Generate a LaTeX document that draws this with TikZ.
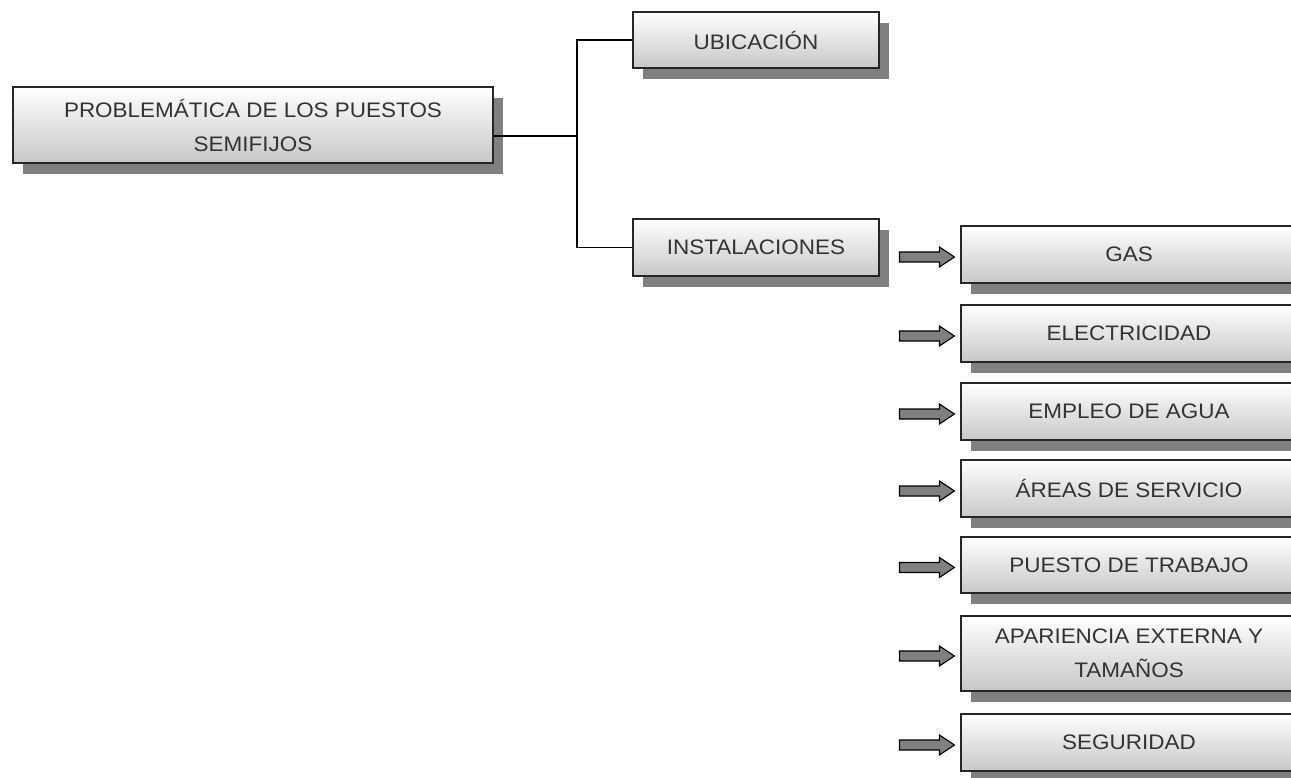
\documentclass[tikz,border=0pt]{standalone}
\usepackage{fontspec}
\setmainfont{Liberation Sans}[FakeStretch=1.07]
\usetikzlibrary{shadows,calc}
\begin{document}
\begin{tikzpicture}[x=1pt,y=-1pt,
  box/.style={draw=black!85, line width=1.1pt, top color=white, bottom color=black!22,
    inner sep=0pt, align=center, text=black!80,
    font=\fontsize{21}{34}\selectfont,
    drop shadow={shadow xshift=10pt, shadow yshift=-11pt, fill=black!50, opacity=1}},
  rbox/.style={box, minimum width=336pt},
  conn/.style={line width=1.4pt, black},
  blockarrow/.pic={\draw[fill=black!50, line width=1.1pt, line join=miter]
    (-61,-5) -- (-21,-5) -- (-21,-10) -- (-6,0) -- (-21,10) -- (-21,5) -- (-61,5) -- cycle;}
]
\useasboundingbox (0,0) rectangle (1291,778);
\clip (0,0) rectangle (1291,778);
\fill[white] (0,0) rectangle (1291,778);

\node[box, minimum width=480pt, minimum height=76pt] (main) at (253,125) {PROBLEMÁTICA DE LOS PUESTOS\\SEMIFIJOS};
\node[box, minimum width=246pt, minimum height=56pt] (ubic) at (756,40) {UBICACIÓN};
\node[box, minimum width=246pt, minimum height=57pt] (inst) at (756,247.5) {INSTALACIONES};

\node[rbox, minimum height=57pt] (gas) at (1129,254.5) {GAS};
\node[rbox, minimum height=57pt] (elec) at (1129,333.5) {ELECTRICIDAD};
\node[rbox, minimum height=57pt] (agua) at (1129,411.5) {EMPLEO DE AGUA};
\node[rbox, minimum height=57pt] (areas) at (1129,488.5) {ÁREAS DE SERVICIO};
\node[rbox, minimum height=56pt] (puesto) at (1129,565) {PUESTO DE TRABAJO};
\node[rbox, minimum height=75pt] (apar) at (1129,653.5) {APARIENCIA EXTERNA Y\\TAMAÑOS};
\node[rbox, minimum height=57pt] (seg) at (1129,742.5) {SEGURIDAD};

\coordinate (j) at (577,136);
\draw[conn] (main.east |- j) -- (j);
\draw[conn] (j) |- (ubic.west);
\draw[conn] (j) |- (inst.west);

\foreach \n in {gas,elec,agua,areas,puesto,apar,seg}
  \pic at ($(\n.west)+(0,2.5)$) {blockarrow};
\end{tikzpicture}
\end{document}
